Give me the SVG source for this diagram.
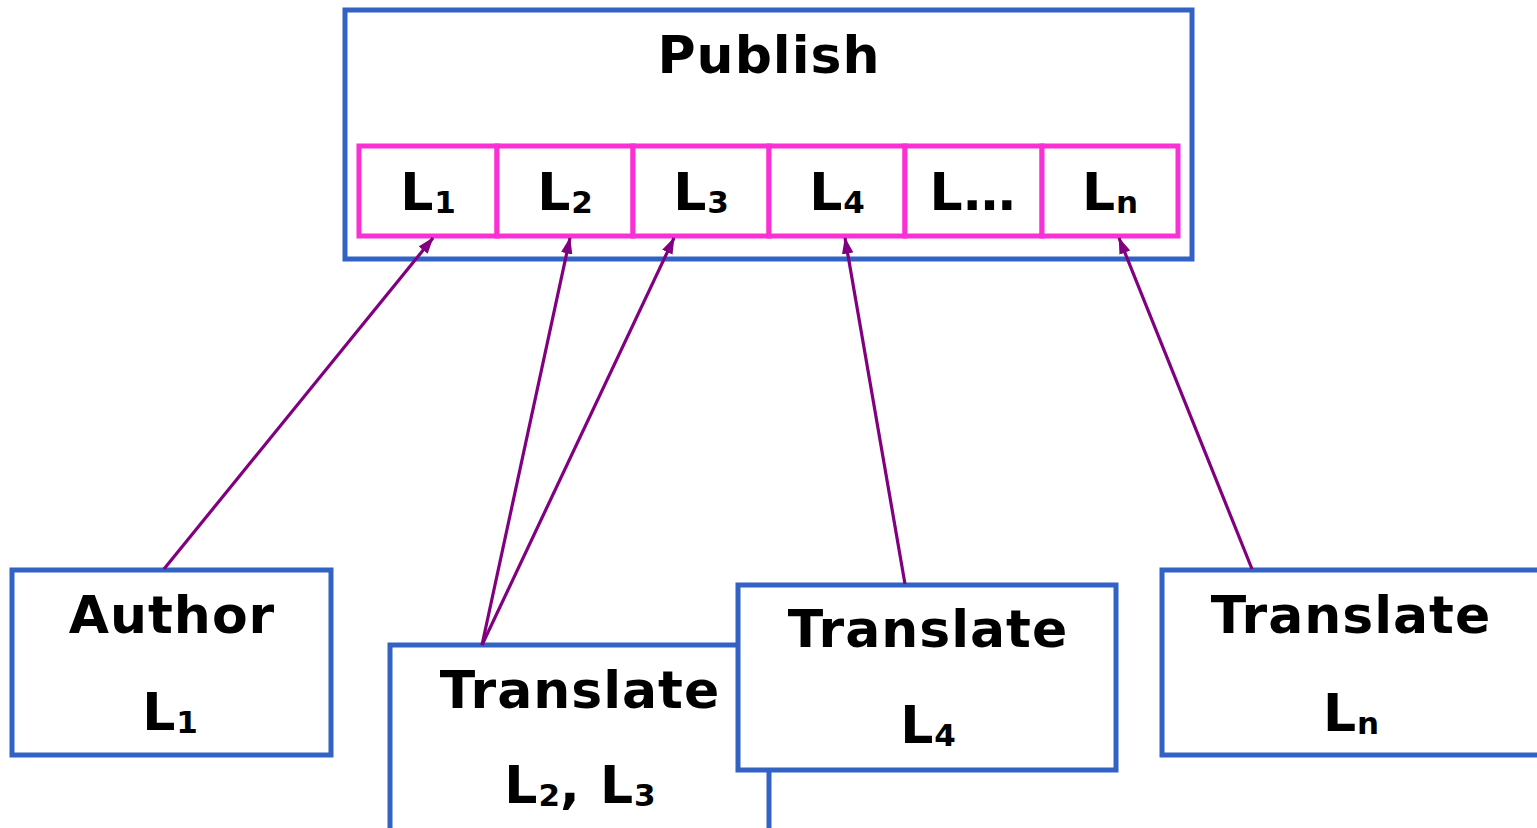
<svg xmlns="http://www.w3.org/2000/svg" width="1537" height="828" viewBox="0 0 1537 828">
  <style>
    .box { fill: #ffffff; stroke: #3162c4; stroke-width: 5; }
    .cell { fill: #ffffff; stroke: #fa2fd4; stroke-width: 5; }
    .lbl { font-family: "DejaVu Sans", "Liberation Sans", sans-serif; font-weight: bold; font-size: 52px; letter-spacing: 1px; fill: #000000; text-anchor: middle; }
    .sub { font-size: 31px; letter-spacing: 0; }
    .link { fill: none; stroke: #800080; stroke-width: 3.2; marker-end: url(#arrow); }
  </style>
  <defs>
    <marker id="arrow" viewBox="0 0 10 7" refX="9.5" refY="3.5" markerWidth="5.2" markerHeight="3.6" orient="auto" markerUnits="strokeWidth">
      <path d="M0,0 L10,3.5 L0,7 z" fill="#800080"/>
    </marker>
  </defs>
  <rect width="1537" height="828" fill="#ffffff"/>

  <!-- Publish container with per-language slots -->
  <g id="publish">
    <rect class="box" x="345" y="10" width="847" height="249"/>
    <text class="lbl" x="769" y="73">Publish</text>
    <g id="slots">
      <rect class="cell" x="359" y="146" width="138" height="90"/>
      <rect class="cell" x="497" y="146" width="136" height="90"/>
      <rect class="cell" x="633" y="146" width="136" height="90"/>
      <rect class="cell" x="769" y="146" width="136" height="90"/>
      <rect class="cell" x="905" y="146" width="137" height="90"/>
      <rect class="cell" x="1042" y="146" width="136" height="90"/>
      <text class="lbl" x="428" y="210">L<tspan class="sub" dy="3">1</tspan></text>
      <text class="lbl" x="565" y="210">L<tspan class="sub" dy="3">2</tspan></text>
      <text class="lbl" x="701" y="210">L<tspan class="sub" dy="3">3</tspan></text>
      <text class="lbl" x="837" y="210">L<tspan class="sub" dy="3">4</tspan></text>
      <text class="lbl" x="973" y="210">L…</text>
      <text class="lbl" x="1110" y="210">L<tspan class="sub" dy="3">n</tspan></text>
    </g>
  </g>

  <g id="author">
    <rect class="box" x="12" y="570" width="319" height="185"/>
    <text class="lbl" x="172" y="633">Author</text>
    <text class="lbl" x="170" y="730">L<tspan class="sub" dy="3">1</tspan></text>
  </g>

  <g id="translate-l2-l3">
    <rect class="box" x="390" y="645" width="379" height="200"/>
    <text class="lbl" x="580" y="708">Translate</text>
    <text class="lbl" x="580" y="803">L<tspan class="sub" dy="3">2</tspan><tspan dy="-3">, L</tspan><tspan class="sub" dy="3">3</tspan></text>
  </g>

  <g id="translate-l4">
    <rect class="box" x="738" y="585" width="378" height="185"/>
    <text class="lbl" x="928" y="647">Translate</text>
    <text class="lbl" x="928" y="743">L<tspan class="sub" dy="3">4</tspan></text>
  </g>

  <g id="translate-ln">
    <rect class="box" x="1162" y="570" width="390" height="185"/>
    <text class="lbl" x="1351" y="633">Translate</text>
    <text class="lbl" x="1351" y="731">L<tspan class="sub" dy="3">n</tspan></text>
  </g>

  <g id="connectors">
    <line class="link" x1="164" y1="569" x2="433" y2="238"/>
    <line class="link" x1="482" y1="645" x2="570" y2="238"/>
    <line class="link" x1="482" y1="645" x2="674" y2="238"/>
    <line class="link" x1="905" y1="584" x2="845" y2="238"/>
    <line class="link" x1="1252" y1="569" x2="1119" y2="238"/>
  </g>
</svg>
